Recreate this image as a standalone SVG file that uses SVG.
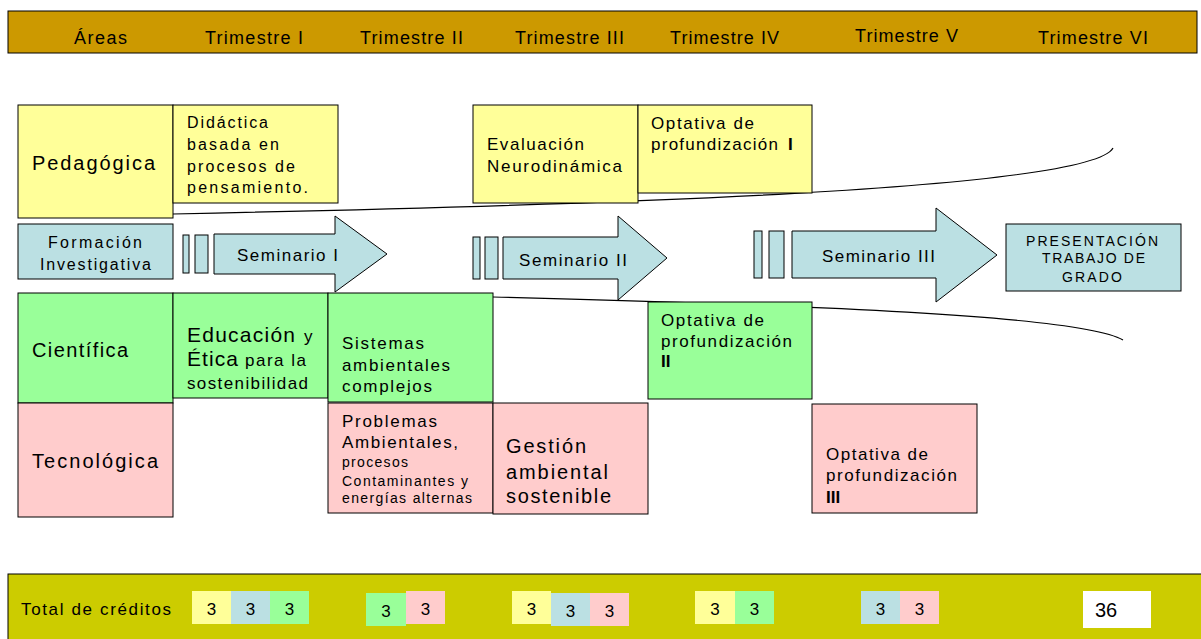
<svg xmlns="http://www.w3.org/2000/svg" width="1201" height="639" viewBox="0 0 1201 639">
<style>
text{font-family:"Liberation Sans",Arial,sans-serif;fill:#000;}
.hd{font-size:18px;}
.b{stroke:#000;stroke-width:1;}
.y{fill:#FFFF99;}
.bl{fill:#BBE0E3;}
.g{fill:#99FF99;}
.p{fill:#FFCCCC;}
.area{font-size:20px;}
.t16{font-size:17px;}
.t15{font-size:16px;}
.t13{font-size:14px;}
.t20{font-size:21px;}
.bold{font-weight:bold;}
.cr{font-size:17px;text-anchor:middle;}
.ln{fill:none;stroke:#000;stroke-width:1.2;}
</style>
<rect width="1201" height="639" fill="#fff"/>
<g id="header">
<rect x="8" y="11" width="1189" height="42" fill="#CC9900" class="b"/>
<text class="hd" x="74" y="44" textLength="53">Áreas</text>
<text class="hd" x="205" y="44" textLength="98">Trimestre I</text>
<text class="hd" x="360" y="44" textLength="103">Trimestre II</text>
<text class="hd" x="515" y="44" textLength="109">Trimestre III</text>
<text class="hd" x="670" y="44" textLength="109">Trimestre IV</text>
<text class="hd" x="855" y="42" textLength="103">Trimestre V</text>
<text class="hd" x="1038" y="44" textLength="110">Trimestre VI</text>
</g>
<g id="connectors">
<path class="ln" d="M173,214 C600,205 1090,190 1113,148"/>
<path class="ln" d="M493,297 C800,305 1080,315 1123,340"/>
</g>
<g id="pedagogica">
<rect x="18" y="105" width="155" height="113" class="b y"/>
<text class="area" x="32" y="170" textLength="123">Pedagógica</text>
</g>
<g id="didactica">
<rect x="173" y="105" width="165" height="98" class="b y"/>
<text class="t15" x="187" y="128" textLength="81">Didáctica</text>
<text class="t15" x="187" y="150" textLength="92">basada en</text>
<text class="t15" x="187" y="172" textLength="108">procesos de</text>
<text class="t15" x="187" y="193" textLength="121">pensamiento.</text>
</g>
<g id="evaluacion">
<rect x="473" y="105" width="165" height="98" class="b y"/>
<text class="t16" x="487" y="150" textLength="97">Evaluación</text>
<text class="t16" x="487" y="172" textLength="135">Neurodinámica</text>
</g>
<g id="optativa1">
<rect x="638" y="105" width="174" height="88" class="b y"/>
<text class="t16" x="651" y="129" textLength="103">Optativa de</text>
<text class="t16" x="651" y="150" textLength="127">profundización</text>
<text class="t16 bold" x="788" y="150">I</text>
</g>
<g id="formacion">
<rect x="18" y="224" width="155" height="55" class="b bl"/>
<text class="t15" x="48" y="248" textLength="94">Formación</text>
<text class="t15" x="40" y="270" textLength="111">Investigativa</text>
</g>
<g id="seminario1">
<rect x="183" y="235" width="6" height="38" class="b bl"/>
<rect x="195" y="235" width="13" height="38" class="b bl"/>
<polygon points="214,234 335,234 335,216 387,254 335,292 335,274 214,274" class="b bl"/>
<text class="t16" x="237" y="261" textLength="101">Seminario I</text>
</g>
<g id="seminario2">
<rect x="473" y="237" width="7" height="42" class="b bl"/>
<rect x="485" y="237" width="13" height="42" class="b bl"/>
<polygon points="503,237 618,237 618,216 667,258 618,300 618,279 503,279" class="b bl"/>
<text class="t16" x="519" y="266" textLength="108">Seminario II</text>
</g>
<g id="seminario3">
<rect x="754" y="231" width="8" height="47" class="b bl"/>
<rect x="769" y="231" width="15" height="47" class="b bl"/>
<polygon points="792,231 936,231 936,208 997,255 936,302 936,278 792,278" class="b bl"/>
<text class="t16" x="822" y="262" textLength="113">Seminario III</text>
</g>
<g id="presentacion">
<rect x="1006" y="224" width="175" height="67" class="b bl"/>
<text class="t13" x="1026" y="246" textLength="132">PRESENTACIÓN</text>
<text class="t13" x="1042" y="263" textLength="103">TRABAJO DE</text>
<text class="t13" x="1062" y="282" textLength="60">GRADO</text>
</g>
<g id="cientifica">
<rect x="18" y="293" width="155" height="110" class="b g"/>
<text class="area" x="32" y="357" textLength="96">Científica</text>
</g>
<g id="educacion">
<rect x="173" y="293" width="155" height="105" class="b g"/>
<text class="t20" x="187" y="342" textLength="108">Educación</text>
<text class="t16" x="304" y="342">y</text>
<text class="t20" x="187" y="366" textLength="51">Ética</text>
<text class="t16" x="245" y="366" textLength="61">para la</text>
<text class="t16" x="187" y="389" textLength="121">sostenibilidad</text>
</g>
<g id="sistemas">
<rect x="328" y="293" width="165" height="109" class="b g"/>
<text class="t16" x="342" y="349" textLength="82">Sistemas</text>
<text class="t16" x="342" y="371" textLength="108">ambientales</text>
<text class="t16" x="342" y="392" textLength="90">complejos</text>
</g>
<g id="optativa2">
<rect x="648" y="302" width="164" height="97" class="b g"/>
<text class="t16" x="661" y="326" textLength="103">Optativa de</text>
<text class="t16" x="661" y="347" textLength="131">profundización</text>
<text class="t16 bold" x="661" y="367">II</text>
</g>
<g id="tecnologica">
<rect x="18" y="403" width="155" height="114" class="b p"/>
<text class="area" x="32" y="468" textLength="126">Tecnológica</text>
</g>
<g id="problemas">
<rect x="328" y="403" width="165" height="110" class="b p"/>
<text class="t16" x="342" y="427" textLength="95">Problemas</text>
<text class="t16" x="342" y="448" textLength="116">Ambientales,</text>
<text class="t13" x="342" y="467" textLength="66">procesos</text>
<text class="t13" x="342" y="486" textLength="126">Contaminantes y</text>
<text class="t13" x="342" y="503" textLength="130">energías alternas</text>
</g>
<g id="gestion">
<rect x="493" y="403" width="155" height="111" class="b p"/>
<text class="area" x="506" y="453" textLength="80">Gestión</text>
<text class="area" x="506" y="479" textLength="102">ambiental</text>
<text class="area" x="506" y="503" textLength="105">sostenible</text>
</g>
<g id="optativa3">
<rect x="812" y="404" width="165" height="109" class="b p"/>
<text class="t16" x="826" y="460" textLength="102">Optativa de</text>
<text class="t16" x="826" y="481" textLength="131">profundización</text>
<text class="t16 bold" x="826" y="503">III</text>
</g>
<g id="creditos">
<rect x="8" y="574" width="1200" height="70" fill="#CCCC00" class="b"/>
<text x="21" y="615" font-size="17" textLength="150">Total de créditos</text>
<rect x="192" y="591" width="39" height="33" class="y"/>
<rect x="231" y="591" width="39" height="33" class="bl"/>
<rect x="270" y="591" width="39" height="33" class="g"/>
<text class="cr" x="211.5" y="615">3</text>
<text class="cr" x="250.5" y="615">3</text>
<text class="cr" x="289.5" y="615">3</text>
<rect x="366" y="593" width="40" height="33" class="g"/>
<rect x="406" y="591" width="39" height="33" class="p"/>
<text class="cr" x="386" y="617">3</text>
<text class="cr" x="425.5" y="615">3</text>
<rect x="512" y="591" width="39" height="33" class="y"/>
<rect x="551" y="593" width="39" height="33" class="bl"/>
<rect x="590" y="593" width="39" height="33" class="p"/>
<text class="cr" x="531.5" y="615">3</text>
<text class="cr" x="570.5" y="617">3</text>
<text class="cr" x="609.5" y="617">3</text>
<rect x="695" y="591" width="40" height="33" class="y"/>
<rect x="735" y="591" width="39" height="33" class="g"/>
<text class="cr" x="715" y="615">3</text>
<text class="cr" x="754.5" y="615">3</text>
<rect x="861" y="591" width="39" height="33" class="bl"/>
<rect x="900" y="591" width="39" height="33" class="p"/>
<text class="cr" x="880.5" y="615">3</text>
<text class="cr" x="919.5" y="615">3</text>
<rect x="1083" y="591" width="68" height="37" fill="#fff"/>
<text x="1095" y="617" font-size="20">36</text>
</g>
</svg>
